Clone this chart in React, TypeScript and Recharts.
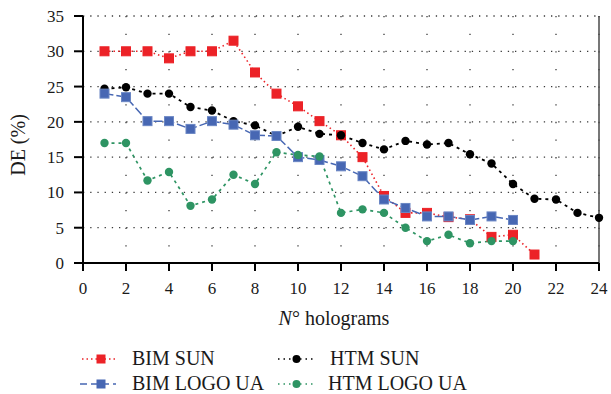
import React from "react";
import { LineChart, Line, XAxis, YAxis, CartesianGrid, ReferenceLine, Label } from "recharts";

// N° holograms
const holograms = [1, 2, 3, 4, 5, 6, 7, 8, 9, 10, 11, 12, 13, 14, 15, 16, 17, 18, 19, 20, 21, 22, 23, 24];

// DE (%) per series, null where the series has no point
const bimSun = [30, 30, 30, 29, 30, 30, 31.5, 27, 24, 22.2, 20.1, 18.1, 15, 9.5, 7.1, 7.1, 6.5, 6.2, 3.7, 4.0, 1.2, null, null, null];
const htmSun = [24.7, 24.9, 24, 24, 22.1, 21.6, 20.1, 19.5, 18, 19.3, 18.3, 18.1, 17, 16.1, 17.3, 16.8, 17, 15.4, 14.1, 11.2, 9.1, 9.0, 7.1, 6.4];
const bimLogo = [24, 23.5, 20.1, 20.1, 19, 20.1, 19.6, 18.1, 18, 15, 14.6, 13.7, 12.3, 9.0, 7.8, 6.6, 6.6, 6.1, 6.6, 6.1, null, null, null, null];
const htmLogo = [17, 17, 11.7, 12.9, 8.1, 9.0, 12.5, 11.2, 15.7, 15.3, 15.1, 7.1, 7.6, 7.1, 5.0, 3.1, 4.0, 2.8, 3.1, 3.1, null, null, null, null];

const xTicks = [0, 2, 4, 6, 8, 10, 12, 14, 16, 18, 20, 22, 24];
const yTicks = [0, 5, 10, 15, 20, 25, 30, 35];

const data = holograms.map((n, i) => ({
  n,
  bimSun: bimSun[i],
  htmSun: htmSun[i],
  bimLogo: bimLogo[i],
  htmLogo: htmLogo[i],
}));

const RED = "#ec2227";
const BLUE = "#4767b3";
const BLACK = "#000000";
const GREEN = "#2e9463";
const FONT = "Liberation Serif, Times New Roman, Tinos, DejaVu Serif, Noto Serif, serif";

const squareDot = (fill: string, stroke: string) => (props: any) => {
  const { cx, cy, index, value } = props;
  if (value == null || cx == null || cy == null) return <g key={`s-${index}`} />;
  return <rect key={`s-${index}`} x={cx - 4.5} y={cy - 4.5} width={9} height={9} fill={fill} stroke={stroke} strokeWidth={1} />;
};

const circleDot = (fill: string) => (props: any) => {
  const { cx, cy, index, value } = props;
  if (value == null || cx == null || cy == null) return <g key={`c-${index}`} />;
  return <circle key={`c-${index}`} cx={cx} cy={cy} r={4.2} fill={fill} />;
};

const tickStyle = { fill: "#1a1a1a", fontSize: 17, fontFamily: FONT };

function ChartLegend() {
  return (
    <svg width={611} height={54} style={{ position: "absolute", left: 0, top: 340, fontFamily: FONT }}>
      <g style={{ fontFamily: FONT, fontSize: 20 }} fill="#1a1a1a">
        {/* BIM SUN */}
        <line x1={82} y1={19} x2={118} y2={19} stroke={RED} strokeWidth={1.5} strokeDasharray="1.5 3" />
        <rect x={96.5} y={14.5} width={9} height={9} fill={RED} />
        <text x={132} y={25}>BIM SUN</text>
        {/* BIM LOGO UA */}
        <line x1={80} y1={44} x2={116} y2={44} stroke={BLUE} strokeWidth={1.6} strokeDasharray="7 4" />
        <rect x={96.5} y={39.5} width={9} height={9} fill={BLUE} />
        <text x={132} y={50}>BIM LOGO UA</text>
        {/* HTM SUN */}
        <line x1={278} y1={19} x2={314} y2={19} stroke={BLACK} strokeWidth={1.5} strokeDasharray="1.5 4" />
        <circle cx={296.5} cy={19} r={4} fill={BLACK} />
        <text x={330} y={25}>HTM SUN</text>
        {/* HTM LOGO UA */}
        <line x1={278} y1={44} x2={314} y2={44} stroke={GREEN} strokeWidth={1.5} strokeDasharray="1.5 4" />
        <circle cx={296.5} cy={44} r={4} fill={GREEN} />
        <text x={328} y={50}>HTM LOGO UA</text>
      </g>
    </svg>
  );
}

export default function App() {
  return (
    <div style={{ position: "absolute", left: 0, top: 0, width: 611, height: 394, background: "#fff", fontFamily: FONT }}>
      <LineChart width={611} height={394} data={data} margin={{ top: 16, right: 12, left: 0, bottom: 91 }} style={{ fontFamily: FONT }}>
        <CartesianGrid vertical={false} stroke="#3a3a3a" strokeWidth={1.3} strokeDasharray="1.3 5.9" />
        <CartesianGrid horizontal={false} stroke="#3a3a3a" strokeWidth={1.3} strokeDasharray="1.3 16.34" />
        <XAxis
          dataKey="n"
          type="number"
          domain={[0, 24]}
          ticks={xTicks}
          interval={0}
          height={40}
          stroke="#000"
          strokeWidth={2}
          tickSize={8}
          tickMargin={11}
          tick={tickStyle}
        >
          <Label
            content={() => (
              <text x={334} y={325} textAnchor="middle" style={{ fontFamily: FONT, fontSize: 20 }} fill="#1a1a1a">
                <tspan fontStyle="italic">N</tspan>
                <tspan>° holograms</tspan>
              </text>
            )}
          />
        </XAxis>
        <YAxis
          type="number"
          domain={[0, 35]}
          ticks={yTicks}
          interval={0}
          width={83}
          stroke="#000"
          strokeWidth={2}
          tickSize={9}
          tickMargin={10}
          tick={tickStyle}
        >
          <Label
            content={() => (
              <text
                x={25}
                y={145}
                textAnchor="middle"
                transform="rotate(-90 25 145)"
                style={{ fontFamily: FONT, fontSize: 20 }}
                fill="#1a1a1a"
              >
                DE (%)
              </text>
            )}
          />
        </YAxis>
        <ReferenceLine x={24} stroke="#4a4a4a" strokeWidth={1.5} />
        <Line
          dataKey="bimSun"
          stroke={RED}
          strokeWidth={1.6}
          strokeDasharray="1.5 3"
          dot={squareDot(RED, RED)}
          activeDot={false}
          isAnimationActive={false}
        />
        <Line
          dataKey="htmSun"
          stroke={BLACK}
          strokeWidth={1.8}
          strokeDasharray="3 4"
          dot={circleDot(BLACK)}
          activeDot={false}
          isAnimationActive={false}
        />
        <Line
          dataKey="bimLogo"
          stroke={BLUE}
          strokeWidth={1.5}
          strokeDasharray="9 3"
          dot={squareDot(BLUE, "#6a86c4")}
          activeDot={false}
          isAnimationActive={false}
        />
        <Line
          dataKey="htmLogo"
          stroke={GREEN}
          strokeWidth={1.7}
          strokeDasharray="3 4"
          dot={circleDot(GREEN)}
          activeDot={false}
          isAnimationActive={false}
        />
      </LineChart>
      <ChartLegend />
    </div>
  );
}
